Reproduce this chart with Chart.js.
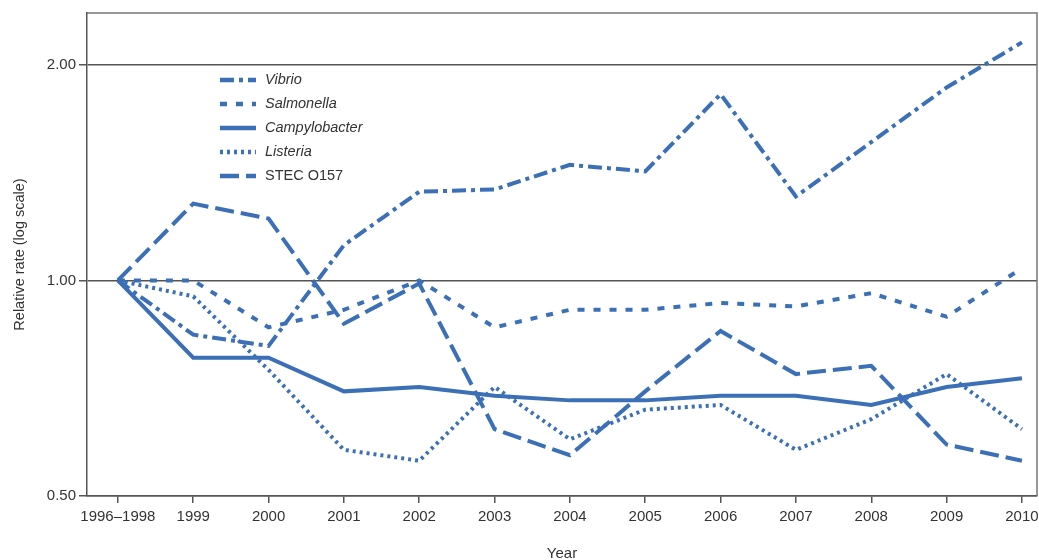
<!DOCTYPE html>
<html>
<head>
<meta charset="utf-8">
<script src="https://cdn.jsdelivr.net/npm/chart.js@4/dist/chart.umd.min.js"></script>
<style>
  html, body { margin: 0; padding: 0; background: #fff; }
  #wrap { width: 1039px; height: 560px; position: relative; }
</style>
</head>
<body>
<div id="wrap"><canvas id="c" width="1039" height="560"></canvas></div>
<script>
// Years on the horizontal axis
const years = ['1996–1998', '1999', '2000', '2001', '2002', '2003', '2004', '2005', '2006', '2007', '2008', '2009', '2010'];

// Relative rates compared with the 1996–1998 baseline
const vibrio        = [1.00, 0.84, 0.81, 1.12, 1.33, 1.34, 1.45, 1.42, 1.82, 1.31, 1.56, 1.86, 2.15];
const salmonella    = [1.00, 1.00, 0.86, 0.91, 1.00, 0.86, 0.91, 0.91, 0.93, 0.92, 0.96, 0.89, 1.04];
const campylobacter = [1.00, 0.78, 0.78, 0.70, 0.71, 0.69, 0.68, 0.68, 0.69, 0.69, 0.67, 0.71, 0.73];
const listeria      = [1.00, 0.95, 0.75, 0.58, 0.56, 0.71, 0.60, 0.66, 0.67, 0.58, 0.64, 0.74, 0.62];
const stec          = [1.00, 1.28, 1.22, 0.87, 0.99, 0.62, 0.57, 0.70, 0.85, 0.74, 0.76, 0.59, 0.56];

// Labelled values on the log axis
const yTicks = [0.5, 1, 2];

const BLUE = '#3b6fb6';
const AXIS = '#555555';
const TEXT = '#333333';
const FONT = "'Liberation Sans Narrow', 'Liberation Sans', Arial, sans-serif";

const toPoints = arr => arr.map((v, i) => ({ x: i, y: v }));

const series = [
  { label: 'Vibrio',        data: vibrio,        dash: [14, 5, 4, 5], italic: true },
  { label: 'Salmonella',    data: salmonella,    dash: [7, 9],        italic: true },
  { label: 'Campylobacter', data: campylobacter, dash: [],            italic: true },
  { label: 'Listeria',      data: listeria,      dash: [3, 4],        italic: true },
  { label: 'STEC O157',     data: stec,          dash: [19, 7],       italic: false }
];

// Legend drawn inside the plot area, upper left
const insideLegend = {
  id: 'insideLegend',
  afterDraw(chart) {
    const ctx = chart.ctx;
    const x0 = 220, x1 = 256, tx = 265, y0 = 80, step = 24;
    ctx.save();
    series.forEach((s, i) => {
      const y = y0 + i * step;
      ctx.strokeStyle = BLUE;
      ctx.lineWidth = 4.5;
      ctx.lineCap = 'butt';
      ctx.setLineDash(s.dash);
      ctx.beginPath();
      ctx.moveTo(x0, y);
      ctx.lineTo(x1, y);
      ctx.stroke();
      ctx.setLineDash([]);
      ctx.fillStyle = TEXT;
      ctx.font = (s.italic ? 'italic ' : '') + '14.5px ' + FONT;
      ctx.textBaseline = 'middle';
      ctx.textAlign = 'left';
      ctx.fillText(s.label, tx, y);
    });
    ctx.restore();
  }
};

// Top and right frame lines of the plot box
const frame = {
  id: 'frame',
  beforeDatasetsDraw(chart) {
    const { ctx, chartArea: a } = chart;
    ctx.save();
    ctx.strokeStyle = '#777777';
    ctx.lineWidth = 1.5;
    ctx.beginPath();
    ctx.moveTo(a.left, a.top);
    ctx.lineTo(a.right, a.top);
    ctx.lineTo(a.right, a.bottom);
    ctx.stroke();
    ctx.restore();
  }
};

new Chart(document.getElementById('c'), {
  type: 'line',
  data: {
    datasets: series.map(s => ({
      label: s.label,
      data: toPoints(s.data),
      borderColor: BLUE,
      borderWidth: 4,
      borderDash: s.dash,
      borderCapStyle: 'butt',
      borderJoinStyle: 'miter',
      pointRadius: 0,
      tension: 0,
      fill: false
    }))
  },
  options: {
    responsive: false,
    animation: false,
    layout: { padding: { top: 13, right: 2, left: 0, bottom: 0 } },
    plugins: { legend: { display: false }, tooltip: { enabled: false } },
    scales: {
      x: {
        type: 'linear',
        min: -0.41,
        max: 12.2,
        afterBuildTicks(scale) { scale.ticks = years.map((_, i) => ({ value: i })); },
        afterFit(scale) {
          scale.height = 64;
          // the last label may hang past the plot box
          scale.paddingLeft = 0;
          scale.paddingRight = 0;
        },
        ticks: {
          callback: v => years[v],
          color: TEXT,
          font: { family: FONT, size: 15 },
          padding: 5,
          maxRotation: 0,
          autoSkip: false
        },
        grid: { drawOnChartArea: false, drawTicks: true, tickLength: 7, color: AXIS, lineWidth: 1.5 },
        border: { display: true, color: AXIS, width: 1.5 },
        title: { display: true, text: 'Year', color: TEXT, font: { family: FONT, size: 15 }, padding: { top: 0, bottom: -3 } }
      },
      y: {
        type: 'logarithmic',
        min: 0.5,
        max: 2.363,
        afterBuildTicks(scale) { scale.ticks = yTicks.map(v => ({ value: v })); },
        afterFit(scale) { scale.width = 87; },
        ticks: {
          callback: v => Number(v).toFixed(2),
          color: TEXT,
          font: { family: FONT, size: 15 },
          padding: 3
        },
        grid: { drawOnChartArea: true, drawTicks: true, tickLength: 8, color: AXIS, lineWidth: 1.5 },
        border: { display: true, color: AXIS, width: 1.5 },
        title: { display: true, text: 'Relative rate (log scale)', color: TEXT, font: { family: FONT, size: 14.5 }, padding: { top: 11, bottom: 0 } }
      }
    }
  },
  plugins: [frame, insideLegend]
});
</script>
</body>
</html>
